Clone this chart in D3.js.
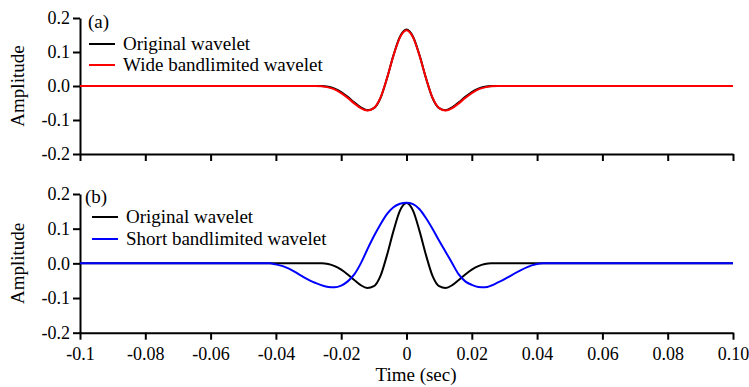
<!DOCTYPE html>
<html lang="en">

<head>
    <meta charset="UTF-8">
    <title>Wavelet comparison</title>
    <script src="https://d3js.org/d3.v7.min.js"></script>
    <style>
        body { margin: 0; background: #fff; }
        .line { fill: none; stroke-width: 2px; }
        .axis path, .axis line { stroke: #000; stroke-width: 2px; }
    </style>
</head>

<body>
    <script>
        var FONT = "'Liberation Serif', 'Times New Roman', serif";

        // time samples (sec)
        var timeA = [-0.1, -0.028, -0.026, -0.024, -0.022, -0.02, -0.018, -0.016, -0.014, -0.012, -0.01, -0.008, -0.006, -0.004, -0.002, 0,
            0.002, 0.004, 0.006, 0.008, 0.01, 0.012, 0.014, 0.016, 0.018, 0.02, 0.022, 0.024, 0.026, 0.028, 0.1];
        // original wavelet
        var originalA = [0, 0, 0, -0.002, -0.008, -0.018, -0.032, -0.048, -0.063, -0.071, -0.065, -0.036, 0.022, 0.09, 0.145, 0.166,
            0.145, 0.09, 0.022, -0.036, -0.065, -0.071, -0.063, -0.048, -0.032, -0.018, -0.008, -0.002, 0, 0, 0];
        // wide bandlimited wavelet
        var wideA = [0, 0, -0.001, -0.004, -0.01, -0.021, -0.035, -0.051, -0.065, -0.072, -0.065, -0.035, 0.022, 0.089, 0.143, 0.164,
            0.143, 0.089, 0.022, -0.035, -0.065, -0.072, -0.065, -0.051, -0.035, -0.021, -0.01, -0.004, -0.001, 0, 0];

        var originalB = [0, 0, 0, -0.002, -0.008, -0.018, -0.032, -0.048, -0.063, -0.071, -0.066, -0.037, 0.023, 0.093, 0.152, 0.174,
            0.152, 0.093, 0.023, -0.037, -0.066, -0.071, -0.063, -0.048, -0.032, -0.018, -0.008, -0.002, 0, 0, 0];

        // short bandlimited wavelet
        var timeShort = [-0.1, -0.042, -0.04, -0.036, -0.032, -0.028, -0.024, -0.022, -0.02, -0.018, -0.016, -0.014, -0.012, -0.01, -0.008, -0.006, -0.004, -0.002, 0,
            0.002, 0.004, 0.006, 0.008, 0.01, 0.012, 0.014, 0.016, 0.018, 0.02, 0.022, 0.024, 0.026, 0.028, 0.042, 0.1];
        var shortB = [0, 0, -0.003, -0.015, -0.037, -0.056, -0.068, -0.069, -0.064, -0.052, -0.032, 0.0, 0.04, 0.078, 0.112, 0.142, 0.162, 0.172, 0.175,
            0.171, 0.156, 0.13, 0.099, 0.065, 0.033, 0.0, -0.032, -0.052, -0.062, -0.068, -0.069, -0.064, -0.055, 0, 0];

        var yTicks = [-0.2, -0.1, 0, 0.1, 0.2];
        var yTickLabels = ["-0.2", "-0.1", "0.0", "0.1", "0.2"];
        var xTicks = [-0.1, -0.08, -0.06, -0.04, -0.02, 0, 0.02, 0.04, 0.06, 0.08, 0.1];
        var xTickLabels = ["-0.1", "-0.08", "-0.06", "-0.04", "-0.02", "0", "0.02", "0.04", "0.06", "0.08", "0.10"];

        var width = 749, height = 387;

        var svg = d3.select("body").append("svg")
            .attr("width", width)
            .attr("height", height)
            .style("font-family", FONT);

        var x = d3.scaleLinear().domain([-0.1, 0.1]).range([80, 733]);

        function panel(y, label, series, legendPos, showXLabels) {
            var g = svg.append("g");

            // axes
            var ya = g.append("g")
                .attr("class", "axis")
                .attr("transform", "translate(80,0)")
                .call(d3.axisLeft(y).tickValues(yTicks).tickSize(7).tickSizeOuter(0).tickPadding(3)
                    .tickFormat(function (d, i) { return yTickLabels[i]; }));

            var xa = g.append("g")
                .attr("class", "axis")
                .attr("transform", "translate(0," + y.range()[0] + ")")
                .call(d3.axisBottom(x).tickValues(xTicks).tickSize(7).tickSizeOuter(0).tickPadding(8)
                    .tickFormat(function (d, i) { return showXLabels ? xTickLabels[i] : ""; }));

            [ya, xa].forEach(function (a) {
                a.selectAll("text")
                    .style("font-family", FONT)
                    .style("font-size", "18px")
                    .attr("fill", "#000");
            });

            // curves
            series.forEach(function (s) {
                var line = d3.line()
                    .x(function (d, i) { return x(s.t[i]); })
                    .y(function (d) { return y(d); })
                    .curve(d3.curveMonotoneX);
                g.append("path")
                    .datum(s.v)
                    .attr("class", "line")
                    .style("stroke", s.color)
                    .attr("d", line);
            });

            // panel label + legend
            g.append("text")
                .attr("x", legendPos.lx)
                .attr("y", legendPos.ly)
                .style("font-size", "19px")
                .text(label);

            series.forEach(function (s, i) {
                var yy = legendPos.y0 + i * legendPos.dy;
                g.append("line")
                    .attr("x1", legendPos.x0).attr("x2", legendPos.x0 + 26)
                    .attr("y1", yy).attr("y2", yy)
                    .style("stroke", s.color).style("stroke-width", 2);
                g.append("text")
                    .attr("x", legendPos.x0 + 34)
                    .attr("y", yy + 6)
                    .style("font-size", "19px")
                    .text(s.name);
            });

            // y title
            g.append("text")
                .attr("transform", "translate(24," + ((y.range()[0] + y.range()[1]) / 2) + ") rotate(-90)")
                .attr("text-anchor", "middle")
                .style("font-size", "19px")
                .text("Amplitude");
        }

        var yA = d3.scaleLinear().domain([-0.2, 0.2]).range([154, 18]);
        var yB = d3.scaleLinear().domain([-0.2, 0.2]).range([332.7, 194]);

        panel(yA, "(a)", [
            { name: "Original wavelet", color: "#000", t: timeA, v: originalA },
            { name: "Wide bandlimited wavelet", color: "#ff0000", t: timeA, v: wideA }
        ], { lx: 88, ly: 28, x0: 89, y0: 44, dy: 21 }, false);

        panel(yB, "(b)", [
            { name: "Original wavelet", color: "#000", t: timeA, v: originalB },
            { name: "Short bandlimited wavelet", color: "#0000ff", t: timeShort, v: shortB }
        ], { lx: 85, ly: 203, x0: 92, y0: 217, dy: 22 }, true);

        svg.append("text")
            .attr("x", 416)
            .attr("y", 381)
            .attr("text-anchor", "middle")
            .style("font-size", "19px")
            .text("Time (sec)");
    </script>
</body>

</html>
